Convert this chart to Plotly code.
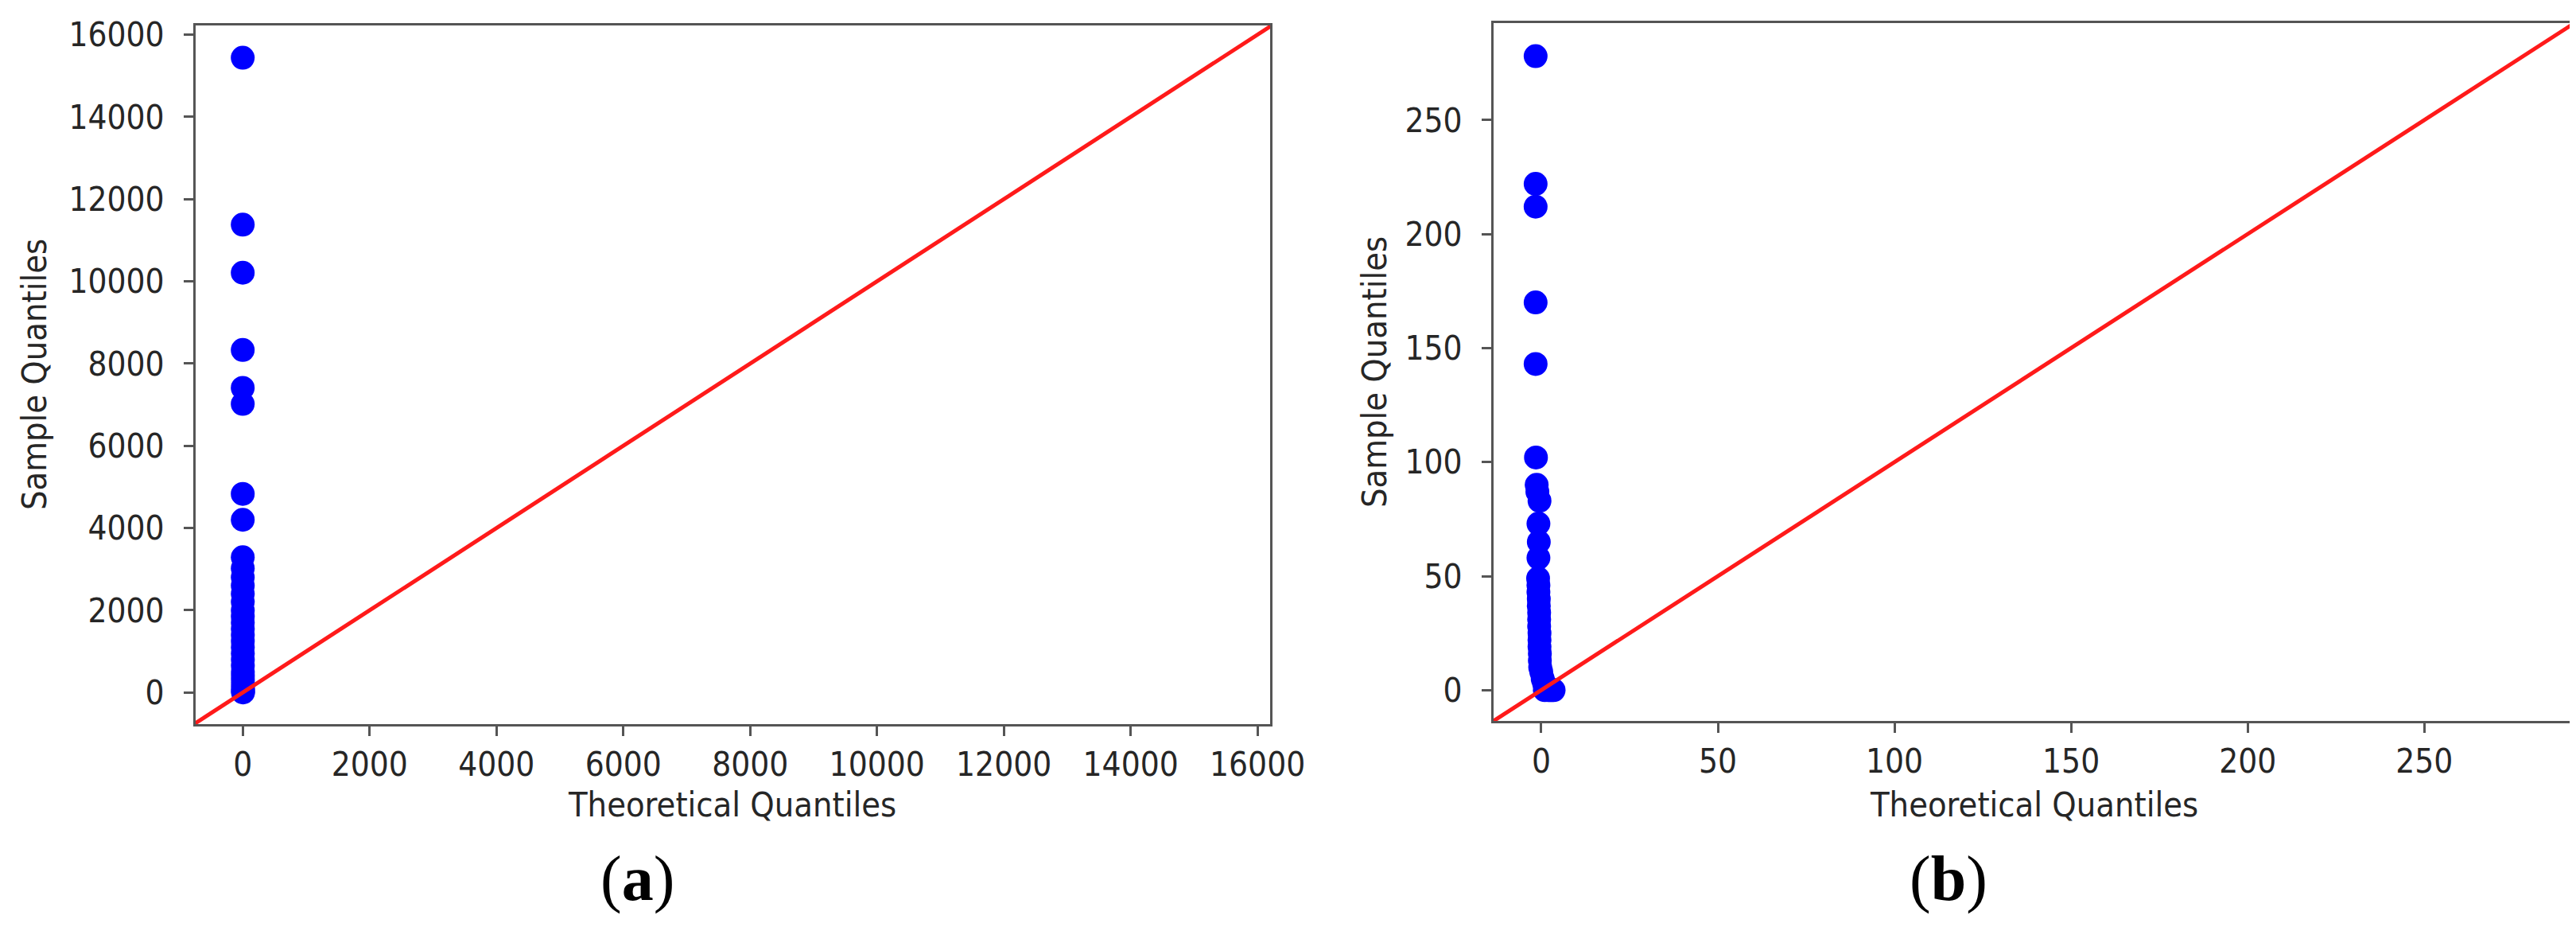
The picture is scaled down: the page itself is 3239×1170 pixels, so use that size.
import plotly.graph_objects as go

# panel (a): sample quantiles, theoretical quantiles near 0
a_theor = [-1.6, -1.6, -1.5, -1.5, -1.4, -1.4, -1.3, -1.2, -1.1, -1.0, -0.9, -0.8,
           -0.7, -0.6, -0.5, -0.4, -0.3, -0.2, -0.1, 0.0, 0.1, 0.2, 0.4, 0.6,
           0.8, 1.0, 1.3, 1.6, 2.0, 2.4, 2.8, 3.2]
a_sample = [15440, 11380, 10210, 8330, 7410, 7020, 4830, 4200, 3290, 3020, 2800, 2600,
            2400, 2200, 2000, 1850, 1700, 1550, 1400, 1250, 1100, 950, 800, 650,
            500, 400, 300, 200, 120, 60, 20, 0]

# panel (b)
b_theor = [-1.6, -1.6, -1.6, -1.6, -1.6, -1.5, -1.3, -1.1, -0.5, -0.8, -0.7, -0.8,
           -0.9, -0.8, -0.8, -0.7, -0.7, -0.6, -0.6, -0.6, -0.5, -0.5, -0.5, -0.4,
           -0.4, -0.3, 0.0, 0.4, 0.8, 1.2, 1.6, 2.0, 2.5, 3.0, 3.5, 1.0]
b_sample = [278, 222, 212, 170, 143, 102, 90, 87, 83, 73, 65, 58,
            49, 46, 43, 40, 37, 34, 31, 28, 25, 22, 19, 16,
            13, 10, 8, 5, 3, 2, 1, 0, 0, 0, 0, 0]

a_ticks = [0, 2000, 4000, 6000, 8000, 10000, 12000, 14000, 16000]
b_ticks = [0, 50, 100, 150, 200, 250]

a_lims = [-770, 16225]
b_lims = [-13.5, 292.5]

W, H = 3239, 1170
tick_font = dict(family="DejaVu Sans Condensed, DejaVu Sans", size=42, color="#262626")
title_font = dict(family="DejaVu Sans Condensed, DejaVu Sans", size=43, color="#262626")

fig = go.Figure()

fig.add_trace(go.Scatter(x=a_theor, y=a_sample, mode="markers", xaxis="x", yaxis="y",
                         marker=dict(color="#0000ff", size=30, line=dict(width=0)),
                         showlegend=False))
fig.add_trace(go.Scatter(x=a_lims, y=a_lims, mode="lines", xaxis="x", yaxis="y",
                         line=dict(color="#ff1a1a", width=5), showlegend=False))
fig.add_trace(go.Scatter(x=b_theor, y=b_sample, mode="markers", xaxis="x2", yaxis="y2",
                         marker=dict(color="#0000ff", size=30, line=dict(width=0)),
                         showlegend=False))
fig.add_trace(go.Scatter(x=b_lims, y=b_lims, mode="lines", xaxis="x2", yaxis="y2",
                         line=dict(color="#ff1a1a", width=5), showlegend=False))

ax = dict(showgrid=False, zeroline=False, showline=True, mirror=True, automargin=False,
          linecolor="#555555", linewidth=3, ticks="outside", ticklen=12,
          tickwidth=2.5, tickcolor="#555555", tickfont=tick_font, tickformat="d")

fig.update_layout(
    width=W, height=H,
    margin=dict(l=0, r=0, t=0, b=0),
    paper_bgcolor="white", plot_bgcolor="white",
    xaxis=dict(ax, domain=[238 / W, 1589 / W], range=[-744, 16199],
               tickvals=a_ticks, anchor="y"),
    yaxis=dict(ax, domain=[1 - 902 / H, 1 - 24 / H], range=a_lims,
               tickvals=a_ticks, anchor="x", ticklabelstandoff=16),
    xaxis2=dict(ax, domain=[1870 / W, 3229 / W], range=b_lims,
                tickvals=b_ticks, anchor="y2"),
    yaxis2=dict(ax, domain=[1 - 898 / H, 1 - 21 / H], range=b_lims,
                tickvals=b_ticks, anchor="x2", ticklabelstandoff=16),
)

notes = [
    dict(text="Theoretical Quantiles", x=913 / W, y=1 - 1003 / H),
    dict(text="Theoretical Quantiles", x=2549 / W, y=1 - 1003 / H),
    dict(text="Sample Quantiles", x=35 / W, y=1 - 463 / H, textangle=-90),
    dict(text="Sample Quantiles", x=1720 / W, y=1 - 460 / H, textangle=-90),
]
for n in notes:
    fig.add_annotation(xref="paper", yref="paper", showarrow=False,
                       xanchor="center", yanchor="middle", font=title_font, **n)

for lbl, cx in [("a", 793), ("b", 2442)]:
    fig.add_annotation(text="(<b>" + lbl + "</b>)", xref="paper", yref="paper",
                       x=cx / W, y=1 - 1096 / H, showarrow=False,
                       xanchor="center", yanchor="middle",
                       font=dict(family="Liberation Serif", size=80, color="black"))

fig.write_html("out.html")
